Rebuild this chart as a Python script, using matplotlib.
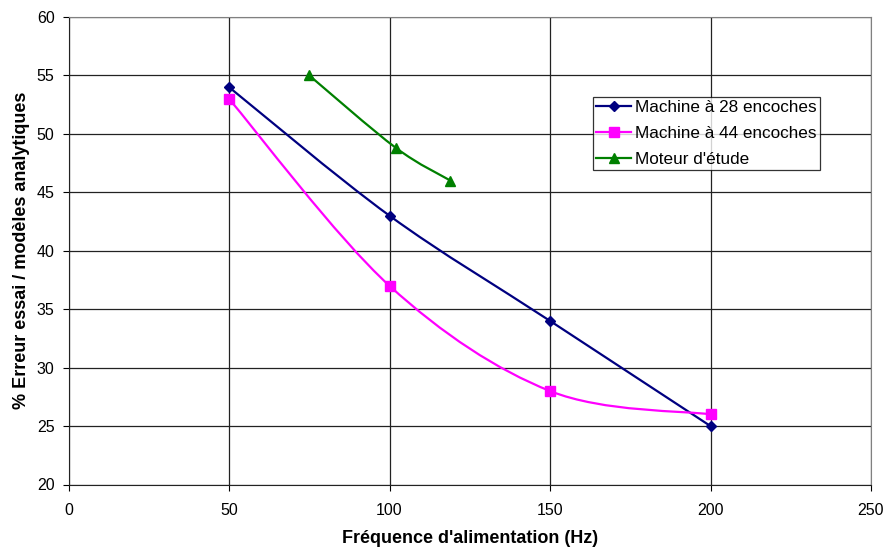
import numpy as np
import matplotlib
matplotlib.use('Agg')
import matplotlib.pyplot as plt
from matplotlib.path import Path
from matplotlib.patches import PathPatch

plt.rcParams['font.family'] = ['Liberation Sans', 'DejaVu Sans']

freq_28 = [50, 100, 150, 200]
err_28 = [54, 43, 34, 25]
freq_44 = [50, 100, 150, 200]
err_44 = [53, 37, 28, 26]
freq_mot = [75, 102, 119]
err_mot = [55, 48.8, 46]

labels = ['Machine à 28 encoches', 'Machine à 44 encoches', "Moteur d'étude"]
colors = ['#000080', '#ff00ff', '#008000']
markers = ['D', 's', '^']
msizes = [5, 7, 7]


def smooth_path(x, y):
  # excel-like smoothed line: cubic bezier, catmull-rom control points
  pts = np.column_stack([x, y]).astype(float)
  n = len(pts)
  verts = [pts[0]]
  codes = [Path.MOVETO]
  for i in range(n - 1):
    p0 = pts[i - 1] if i > 0 else pts[i]
    p1 = pts[i]
    p2 = pts[i + 1]
    p3 = pts[i + 2] if i + 2 < n else pts[i + 1]
    c1 = p1 + (p2 - p0) / 6
    c2 = p2 - (p3 - p1) / 6
    verts += [c1, c2, p2]
    codes += [Path.CURVE4] * 3
  return Path(verts, codes)


fig = plt.figure(figsize=(8.89, 5.47), dpi=100)
ax = fig.add_axes([68.5 / 889, 1 - 484.5 / 547, 802.5 / 889, 467.5 / 547])

series = [(freq_28, err_28), (freq_44, err_44), (freq_mot, err_mot)]
for (xs, ys), lab, c, m, ms in zip(series, labels, colors, markers, msizes):
  ax.add_patch(PathPatch(smooth_path(xs, ys), fill=False, edgecolor=c, lw=1.6, zorder=3))
  ax.plot(xs, ys, linestyle='none', marker=m, color=c, markersize=ms, zorder=4)
  ax.plot([], [], color=c, marker=m, markersize=ms, lw=1.6, label=lab)

ax.set_xlim(0, 250)
ax.set_ylim(20, 60)
ax.set_xticks(np.arange(0, 251, 50))
ax.set_yticks(np.arange(20, 61, 5))
ax.grid(True, color='#222222', lw=0.9)
ax.set_axisbelow(True)
for s in ['top', 'right']:
  ax.spines[s].set_color('#808080')
for s in ['left', 'bottom']:
  ax.spines[s].set_color('#222222')
ax.tick_params(labelsize=11.5, length=4, direction='out', colors='#000000')
ax.tick_params(axis='x', pad=9)
ax.tick_params(axis='y', pad=6)
ax.set_xlabel("Fréquence d'alimentation (Hz)", fontsize=13, fontweight='bold', labelpad=9)
ax.set_ylabel('% Erreur essai / modèles analytiques', fontsize=13, fontweight='bold', labelpad=4.5)

leg = ax.legend(loc='upper left', bbox_to_anchor=(593 / 889, 1 - 97 / 547), bbox_transform=fig.transFigure,
                fontsize=12.3, frameon=True, fancybox=False, handlelength=2.0, handletextpad=0.25,
                borderpad=0.2, labelspacing=0.62, borderaxespad=0)
leg.get_frame().set_edgecolor('#000000')
leg.get_frame().set_linewidth(0.9)

fig.savefig('out.png', dpi=100)
